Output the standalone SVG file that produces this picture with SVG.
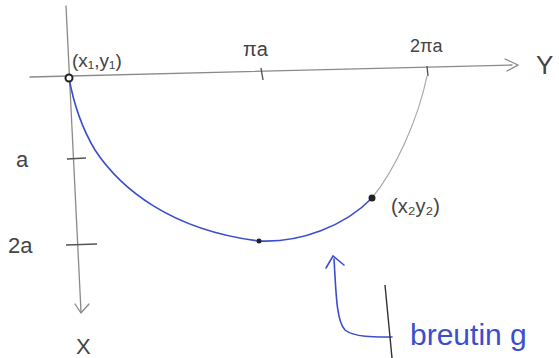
<svg xmlns="http://www.w3.org/2000/svg" width="559" height="358" viewBox="0 0 559 358">
<style>
.ax{stroke:#8a8a8a;stroke-width:1.3;fill:none;stroke-linecap:round}
.tk{stroke:#555;stroke-width:1.4;fill:none}
.t{font-family:"Liberation Sans",Arial,sans-serif;fill:#444}
.blue{stroke:#3a4fcf;stroke-width:1.6;fill:none;stroke-linecap:round}
.bt{font-family:"Liberation Sans",Arial,sans-serif;fill:#3a4fcf}
</style>
<rect width="559" height="358" fill="#fff"/>
<g id="y-axis">
<path class="ax" d="M30 77 L512 65"/>
<path class="ax" d="M505 59 L518 65 L507 71"/>
<text class="t" x="536" y="74" font-size="26">Y</text>
</g>
<g id="x-axis">
<path class="ax" d="M66 6 L81 312"/>
<path class="ax" d="M75 304 L81 313 L89 304"/>
<text class="t" x="76" y="354" font-size="22">X</text>
</g>
<g id="ticks">
<path class="tk" d="M261 68 L263 80"/>
<text class="t" x="243" y="56" font-size="20">πa</text>
<path class="tk" d="M427 66 L428 76"/>
<text class="t" x="410" y="52" font-size="18">2πa</text>
<path class="tk" d="M67 159 L86 158"/>
<text class="t" x="16" y="167" font-size="22">a</text>
<path class="tk" d="M66 245 L97 244"/>
<text class="t" x="8" y="253" font-size="22">2a</text>
</g>
<g id="curve">
<path class="blue" d="M69 78 C73 100 80 125 95 150 C120 188 170 230 259 241 C300 243 345 226 372 198"/>
<path d="M372 198 C395 170 418 120 427 76" stroke="#a8a8a8" stroke-width="1.2" fill="none"/>
</g>
<g id="p1">
<circle cx="69" cy="78" r="3.5" fill="#fff" stroke="#222" stroke-width="2"/>
<text class="t" x="72" y="67" font-size="19">(x₁,y₁)</text>
</g>
<g id="pmid">
<circle cx="259" cy="241" r="2.5" fill="#222"/>
</g>
<g id="p2">
<circle cx="372" cy="198" r="3.5" fill="#222"/>
<text class="t" x="391" y="213" font-size="20">(x₂y₂)</text>
</g>
<g id="connectors">
<path class="blue" d="M334 259 C336 290 336 320 345 330 C355 338 380 337 392 337"/>
<path class="blue" d="M326 268 L333 256 L344 265"/>
</g>
<g id="label">
<path d="M385 285 L392 358" stroke="#333" stroke-width="1.4" fill="none"/>
<text class="bt" x="410" y="345" font-size="30">breutin g</text>
</g>
</svg>
